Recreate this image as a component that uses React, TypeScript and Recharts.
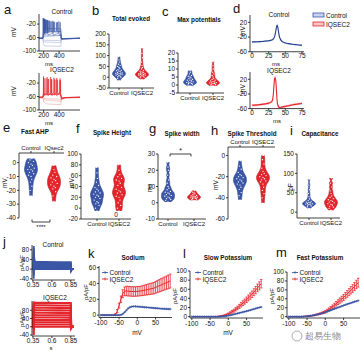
import React from "react";
import { ComposedChart, LineChart, Line, Area, XAxis, YAxis, ErrorBar } from "recharts";

const BLUE = "#3b56a6";
const BLUE_LINE = "#26418f";
const BLUE_PALE = "#a9b3dc";
const RED = "#e4262c";
const RED_LINE = "#b8151c";
const RED_PALE = "#f2a5a5";
const INK = "#111";
const FONT = "'Liberation Sans', Arial, Helvetica, sans-serif";

// ---- a: voltage traces [ms, mV]
const aCtrlPale = [
  [[140, -63], [192, -63], [197, -79], [215, -85], [422, -86], [428, -67], [460, -63], [670, -63]],
  [[140, -63], [192, -63], [197, -73], [422, -75], [428, -65], [460, -63], [670, -63]],
  [[140, -63], [192, -63], [197, -68], [422, -69], [428, -63], [670, -63]],
];
const aCtrl = [
  [[140, -62], [192, -62], [197, -56], [422, -54], [428, -63], [670, -62]],
  [[140, -62], [192, -62], [198, -50], [203, -47], [205, -4], [208, -53], [250, -47], [252, -8], [255, -53], [318, -47], [320, -10], [323, -53], [395, -47], [397, -12], [400, -53], [422, -50], [428, -65], [670, -62]],
  [[140, -62], [192, -62], [194, -50], [196, -2], [199, -50], [208, -45], [210, -5], [213, -49], [224, -44], [226, -6], [229, -48], [242, -42], [244, -8], [247, -46], [264, -41], [266, -10], [269, -45], [290, -40], [292, -12], [295, -44], [325, -40], [327, -14], [330, -44], [365, -40], [367, -15], [370, -44], [422, -40], [428, -64], [670, -62]],
  [[140, -62], [192, -62], [194, -48], [196, -5], [199, -42], [206, -38], [208, -6], [211, -40], [220, -36], [222, -8], [225, -38], [238, -35], [240, -10], [243, -37], [260, -34], [330, -33], [380, -34], [422, -34], [427, -63], [670, -62]],
  [[140, -62], [192, -62], [194, -49], [196, -3], [199, -48], [205, -44], [207, -4], [210, -47], [216, -43], [218, -6], [221, -46], [230, -42], [232, -7], [235, -45], [250, -42], [252, -9], [255, -45], [275, -41], [277, -10], [280, -44], [305, -41], [307, -12], [310, -44], [340, -41], [342, -13], [345, -44], [378, -42], [380, -14], [383, -44], [412, -42], [414, -15], [417, -44], [422, -45], [428, -65], [670, -62]],
];
const aIqPale = [
  [[140, -63], [192, -63], [200, -76], [240, -82], [422, -84], [430, -68], [480, -64], [670, -63]],
  [[140, -63], [192, -63], [200, -70], [422, -74], [430, -66], [480, -63], [670, -63]],
  [[140, -64], [192, -64], [200, -66], [422, -68], [430, -64], [670, -63]],
];
const aIq = [
  [[140, -62], [192, -62], [197, -55], [422, -52], [430, -63], [670, -62]],
  [[140, -62], [192, -62], [196, -50], [198, 0], [201, -56], [243, -48], [245, -2], [248, -56], [288, -48], [290, -2], [293, -56], [331, -48], [333, -4], [336, -56], [368, -48], [370, -5], [373, -56], [411, -48], [413, -6], [416, -56], [424, -58], [432, -66], [470, -63], [670, -62]],
  [[140, -62], [192, -62], [203, -50], [205, -6], [208, -57], [253, -49], [255, -8], [258, -57], [303, -49], [305, -10], [308, -57], [358, -49], [360, -10], [363, -57], [408, -50], [410, -12], [413, -57], [424, -56], [432, -67], [480, -63], [670, -62]],
  [[140, -62], [192, -62], [198, -50], [200, -4], [203, -55], [228, -48], [230, -6], [233, -55], [263, -47], [265, -8], [268, -55], [298, -47], [300, -8], [303, -55], [338, -47], [340, -9], [343, -55], [378, -47], [380, -10], [383, -55], [416, -47], [418, -11], [421, -55], [428, -68], [480, -64], [670, -62]],
];

// ---- violins (raw cell values)
const bCtrl = [-15, -5, 0, 2, 5, 8, 10, 12, 14, 15, 17, 18, 20, 22, 25, 28, 30, 32, 35, 40, 45, 50, 55, 60, 70, 80, 95];
const bIq = [-10, -3, 0, 3, 5, 7, 9, 10, 12, 13, 15, 16, 18, 20, 22, 25, 28, 32, 38, 45, 55, 70, 90, 110, 135];
const cCtrl = [-0.5, 0, 0.5, 1, 1, 1.5, 1.5, 2, 2, 2.5, 3, 3, 3.5, 4, 4.5, 5, 5.5, 6, 7, 8, 9];
const cIq = [-0.5, 0, 0.3, 0.6, 1, 1, 1.3, 1.5, 1.8, 2, 2.3, 2.6, 3, 3.5, 4, 5, 6, 7, 8, 10, 12, 14.5];
const eCtrl = [-24, -20, -17, -14, -12, -10, -9, -8, -7, -6, -5, -5, -4, -3, -2, -1, 0, 1, 2, 3];
const eIq = [-28, -24, -21, -19, -18, -17, -16, -15, -14, -13, -12, -11, -10, -9, -7, -5, -2];
const fCtrl = [-5, 0, 5, 8, 10, 12, 15, 18, 20, 22, 24, 26, 28, 30, 32, 35, 38, 42, 48, 55, 65, 75];
const fIq = [-5, 0, 5, 10, 15, 20, 22, 25, 28, 30, 32, 35, 38, 42, 46, 50, 52, 55, 58, 62, 70, 80];
const gCtrl = [0.5, 1.5, 2, 2.5, 3, 3.5, 4, 4.5, 5, 5.5, 6, 6.5, 7, 8, 9, 10, 12, 14, 17, 20, 22, 25];
const gIq = [1.5, 2, 2.3, 2.6, 2.8, 3, 3.2, 3.4, 3.6, 3.8, 4, 4.3, 4.6, 5, 5.5, 6, 6.5, 7.5];
const hCtrl = [-42, -38, -35, -32, -30, -28, -27, -26, -25, -24, -23, -22, -21, -20, -19, -18, -16, -13, -10, -5];
const hIq = [-45, -40, -36, -33, -30, -27, -25, -24, -23, -22, -21, -20, -19, -18, -17, -15, -12, -8, -4, 0];
const iCtrl = [10, 14, 16, 18, 19, 20, 21, 22, 23, 24, 25, 26, 28, 30, 34, 40, 48, 58, 70, 85];
const iIq = [5, 10, 13, 15, 18, 20, 22, 24, 26, 28, 30, 32, 35, 38, 42, 48, 55, 65, 75, 88];

// ---- d: averaged spike waveforms
const dCtrlT = [0, 5, 10, 15, 20, 25, 30, 32, 34, 35, 36, 37, 38, 39, 40, 41, 43, 46, 50, 55, 60, 65, 70, 75];
const dCtrlV = [-33, -33, -32.5, -32, -31, -30, -28, -25, -18, -10, 0, 9, 12, 4, -8, -18, -27, -33, -36, -38, -39.5, -40.5, -41.5, -42.5];
const dCtrlE = [2, 2, 2, 2, 2, 2, 2, 2, 3, 4, 5, 5, 5, 5, 5, 4, 3, 2.5, 2, 2, 2, 2, 2, 2];
const dIqT = [0, 5, 10, 15, 20, 25, 28, 30, 31, 32, 33, 34, 35, 36, 37, 38, 40, 42, 45, 50, 55, 60, 65, 70, 75];
const dIqV = [-51, -50.5, -49.5, -48.5, -47, -45, -43, -40, -35, -20, 5, 22, 24, 10, -20, -45, -55, -57, -56, -54, -52, -50, -48.5, -47, -46];
const dIqE = [3, 3, 3, 3, 3, 3, 3, 3, 4, 6, 7, 7, 7, 7, 7, 6, 4, 3, 3, 3, 3, 3, 3, 3, 3];

// ---- j: current traces (s, pA/pF)
const jT = [0.345, 0.358, 0.36, 0.362, 0.37, 0.39, 0.5, 0.7, 0.848, 0.85, 0.853, 0.865, 0.885];
const jCtrl = [
  [0, 0, -40, -10, 0, 0, 0, 0, 0, 0, -8, 0, 0],
  [0, 0, -25, -2, 3, 3, 3, 3, 3, 3, -6, 0, 0],
  [0, 0, -5, 6, 7, 6, 6, 6, 5.5, 5.5, -5, 0, 0],
  [0, 0, 15, 14, 11, 9.5, 9, 9, 8.5, 8.5, -4, 0, 0],
  [0, 0, 35, 22, 15, 12.5, 12, 12, 11.5, 11.5, -3, 0, 0],
  [0, 0, 50, 30, 19, 16, 15.5, 15, 14.5, 14.5, -2, 0, 0],
  [0, 0, 65, 38, 23, 19.5, 19, 18.5, 18, 18, -1, 0, 0],
  [0, 0, 78, 46, 27, 23, 22.5, 22, 21.5, 21.5, 0, 0, 0],
  [0, 0, 88, 54, 31, 27, 26, 25.5, 25, 25, 1, 0, 0],
  [0, 0, 96, 62, 35, 30, 29.5, 29, 28.5, 28.5, 2, 0, 0],
];
const jIq = [
  [0, 0, -40, -5, 0, 0, 0, 0, 0, 0, -8, 0, 0],
  [0, 0, -10, 14, 12, 11, 11, 11, 10.5, 10.5, -6, 0, 0],
  [0, 0, 10, 26, 23, 22, 22, 22, 21.5, 21.5, -5, 0, 0],
  [0, 0, 30, 38, 34, 33, 33, 33, 32.5, 32.5, -4, 0, 0],
  [0, 0, 50, 50, 46, 45, 45, 44.5, 44, 44, -3, 0, 0],
  [0, 0, 70, 62, 58, 56, 56, 55.5, 55, 55, -2, 0, 0],
  [0, 0, 85, 74, 70, 68, 68, 67.5, 67, 67, -1, 0, 0],
  [0, 0, 98, 86, 82, 80, 80, 79.5, 79, 79, 0, 0, 0],
  [0, 0, 108, 98, 94, 92, 92, 91.5, 91, 91, 1, 0, 0],
  [0, 0, 116, 110, 106, 104, 104, 103.5, 103, 103, 2, 0, 0],
  [0, 0, 122, 120, 117, 116, 116, 115.5, 115, 115, 3, 0, 0],
];

// ---- k, l, m: I-V curves
const V = [-100, -95, -90, -85, -80, -75, -70, -65, -60, -55, -50, -45, -40, -35, -30, -25, -20, -15, -10, -5, 0, 5, 10, 15, 20, 25, 30, 35, 40, 45, 50, 55, 60, 65, 70, 75, 80, 85, 90];
const kCtrl = [0, 0, 0, 0, 0, 0, 0, 0, 0, 0, 0, 0.3, 1.5, 3.5, 6, 8.5, 10, 10.8, 11, 11, 10.8, 10.6, 10.4, 10.2, 10, 9.8, 9.6, 9.4, 9.2, 9, 8.8, 8.6, 8.4, 8.2, 8, 7.9, 7.8, 7.7, 7.6];
const kIq = [0, 0, 0, 0, 0, 0, 0, 0, 1, 5, 12, 20, 27, 30, 30.5, 30.2, 30, 29.8, 29.8, 29.8, 30, 30.2, 30.5, 31, 31.5, 32, 32.5, 33, 33.5, 34, 35, 36, 37, 38, 39, 40, 41, 42, 43];
const kIqErr = [0, 0, 0, 0, 0, 0, 0, 0, 1, 2, 3, 4, 5, 5.5, 6, 6, 6, 6, 6, 6, 6, 6, 6, 6.2, 6.4, 6.6, 6.8, 7, 7, 7.2, 7.4, 7.6, 7.8, 8, 8, 8.2, 8.4, 8.6, 8.8];
const lCtrl = [0, 0, 0, 0, 0, 0, 0, 0, 0, 0, 0, 0, 0, 0, 0, 0, 0.3, 0.6, 1, 1.6, 2.3, 3.2, 4, 5, 6, 7, 8, 9, 10, 11, 12, 13, 14.2, 15.4, 16.6, 17.8, 19, 20, 21];
const lIq = [0, 0, 0, 0, 0, 0, 0, 0, 0, 0, 0, 0, 0, 0, 0.3, 0.7, 1.3, 2, 3, 4.3, 6, 8, 10.5, 13, 16, 19, 22.5, 26, 29.5, 33, 37, 41, 45, 49, 53.5, 58, 63, 67.5, 72];
const lIqErr = [0, 0, 0, 0, 0, 0, 0, 0, 0, 0, 0, 0, 0, 0, 0.3, 0.5, 0.8, 1, 1.3, 1.6, 2, 2.4, 2.8, 3.2, 3.6, 4, 4.4, 4.8, 5.2, 5.6, 6, 6.4, 6.8, 7.2, 7.6, 8, 8.4, 8.8, 9.2];
const mCtrl = [0, 0, 0, 0, 0, 0, 0, 0.2, 0.4, 0.7, 1, 1.5, 2, 2.7, 3.5, 4.3, 5.2, 6.2, 7.3, 8.5, 10, 11.5, 13, 14.5, 16, 17.5, 19, 20.5, 22, 23.5, 25, 26.5, 28, 29.3, 30.6, 32, 33.3, 34.6, 36];
const mIq = [0, 0, 0, 0, 0, 0, 0, 0.1, 0.3, 0.5, 0.8, 1.2, 1.7, 2.4, 3.2, 4.2, 5.3, 6.6, 8, 9.5, 11, 13.5, 16, 19, 22, 25.5, 29, 32.5, 36, 39.5, 43, 47, 51, 55, 59, 63, 67.5, 72, 76];
const mIqErr = [0, 0, 0, 0, 0, 0, 0, 0.1, 0.2, 0.3, 0.4, 0.5, 0.6, 0.8, 1, 1.2, 1.4, 1.7, 2, 2.3, 2.6, 3, 3.4, 3.8, 4.2, 4.6, 5, 5.4, 5.8, 6.2, 6.6, 7, 7.4, 7.8, 8.2, 8.6, 9, 9.4, 9.8];

const tick = { fontSize: 6.5, fill: INK, fontFamily: FONT };
const axis = {
  tick,
  tickSize: 2,
  tickMargin: 1,
  stroke: INK,
  axisLine: { stroke: INK, strokeWidth: 0.8 },
  tickLine: { stroke: INK, strokeWidth: 0.8 },
};

const YW = 24;
const XH = 10;
const PAD = 5;
function frame(px: number, py: number, pw: number, ph: number, top = false) {
  return {
    style: { position: "absolute" as const, left: px - YW, top: py - PAD - (top ? XH : 0) },
    width: YW + pw + 4,
    height: ph + XH + 2 * PAD,
    margin: { top: PAD, right: 4, bottom: PAD, left: 0 },
  };
}

function dens(vals: number[], y: number, bw: number) {
  let s = 0;
  for (const v of vals) {
    const z = (y - v) / bw;
    s += Math.exp(-0.5 * z * z);
  }
  return s;
}

// one table per group: outline rows (kernel density, trimmed at min/max) plus one row per cell
function violinRows(g: number[], center: number, bw: number, half: number) {
  const lo = Math.min(...g);
  const hi = Math.max(...g);
  let peak = 0;
  for (let i = 0; i <= 200; i++) peak = Math.max(peak, dens(g, lo + ((hi - lo) * i) / 200, bw));
  const rows: any[] = [];
  for (let i = 0; i <= 60; i++) rows.push({ y: lo + ((hi - lo) * i) / 60 });
  [...g].sort((a, b) => a - b).forEach((v, k) => rows.push({ y: v, k }));
  rows.sort((a, b) => a.y - b.y);
  const offs = [0, -0.5, 0.5, -0.25, 0.25];
  return rows.map((r) => {
    const w = (half * dens(g, r.y, bw)) / peak;
    return { y: r.y, v: [center - w, center + w], p: r.k !== undefined ? center + offs[r.k % 5] * w : null };
  });
}

type ViolinProps = {
  px: number; py: number; pw: number; ph: number; c1: number; c2: number;
  yDomain: [number, number]; yTicks: number[]; ctrl: number[]; iq: number[];
  bw: number; cats: [string, string]; top?: boolean;
};

function ViolinPanel(p: ViolinProps) {
  const f = frame(p.px, p.py, p.pw, p.ph, p.top);
  const s = p.c2 - p.c1;
  const xDomain = [1 - (p.c1 - p.px) / s, 2 + (p.px + p.pw - p.c2) / s];
  const half = 6.5 / s;
  const r0 = violinRows(p.ctrl, 1, p.bw, half);
  const r1 = violinRows(p.iq, 2, p.bw, half);
  const dot = { r: 0.65, fill: "#fff", stroke: "none" };
  return (
    <div style={f.style}>
      <ComposedChart layout="vertical" width={f.width} height={f.height} margin={f.margin}>
        <XAxis type="number" orientation={p.top ? "top" : "bottom"} domain={xDomain} ticks={[1, 2]} interval={0}
          tickFormatter={(v: number) => (v === 1 ? p.cats[0] : p.cats[1])} height={XH} allowDataOverflow
          {...axis} tick={{ ...tick, fontSize: 6 }} />
        <YAxis type="number" dataKey="y" domain={p.yDomain} ticks={p.yTicks} interval={0} width={YW} reversed allowDataOverflow {...axis} />
        <Area data={r0} type="linear" dataKey="v" fill={BLUE} fillOpacity={1} stroke={BLUE_LINE} strokeWidth={0.6} isAnimationActive={false} />
        <Area data={r1} type="linear" dataKey="v" fill={RED} fillOpacity={1} stroke={RED_LINE} strokeWidth={0.6} isAnimationActive={false} />
        <Line data={r0} dataKey="p" stroke="none" dot={dot} activeDot={false} isAnimationActive={false} />
        <Line data={r1} dataKey="p" stroke="none" dot={dot} activeDot={false} isAnimationActive={false} />
      </ComposedChart>
    </div>
  );
}

function TracePanel({ px, py, pw, ph, pale, main, paleColor, color }: any) {
  const f = frame(px, py, pw, ph);
  return (
    <div style={f.style}>
      <LineChart width={f.width} height={f.height} margin={f.margin}>
        <XAxis type="number" dataKey="t" domain={[140, 670]} ticks={[200, 400]} height={XH} allowDataOverflow {...axis} tickMargin={0} />
        <YAxis type="number" domain={[-100, 10]} ticks={[-100, -60, -20]} interval={0} width={YW} allowDataOverflow {...axis} />
        {pale.map((tr: number[][], i: number) => (
          <Line key={"p" + i} data={tr.map(([t, v]) => ({ t, v }))} dataKey="v" stroke={paleColor} strokeWidth={0.6} dot={false} isAnimationActive={false} />
        ))}
        {main.map((tr: number[][], i: number) => (
          <Line key={"m" + i} data={tr.map(([t, v]) => ({ t, v }))} dataKey="v" stroke={color} strokeWidth={0.55} dot={false} isAnimationActive={false} />
        ))}
      </LineChart>
    </div>
  );
}

function SpikePanel({ px, py, pw, ph, t, v, e, color, band }: any) {
  const f = frame(px, py, pw, ph);
  const rows = t.map((x: number, i: number) => ({ t: x, v: v[i], band: [v[i] - e[i], v[i] + e[i]] }));
  return (
    <div style={f.style}>
      <ComposedChart width={f.width} height={f.height} margin={f.margin} data={rows}>
        <XAxis type="number" dataKey="t" domain={[-3, 78]} ticks={[0, 25, 50, 75]} interval={0} height={XH} allowDataOverflow {...axis} tickMargin={0} />
        <YAxis type="number" domain={[-60, 40]} ticks={[-60, -20, 20]} interval={0} width={YW} allowDataOverflow {...axis} />
        <Area type="monotone" dataKey="band" fill={band} fillOpacity={1} stroke="none" isAnimationActive={false} />
        <Line type="monotone" dataKey="v" stroke={color} strokeWidth={1.1} dot={false} isAnimationActive={false} />
      </ComposedChart>
    </div>
  );
}

function CurrentPanel({ px, py, pw, ph, traces, color, yDomain }: any) {
  const f = frame(px, py, pw, ph);
  const rows = jT.map((t, i) => {
    const r: any = { t };
    traces.forEach((tr: number[], k: number) => (r["s" + k] = tr[i]));
    return r;
  });
  return (
    <div style={f.style}>
      <LineChart width={f.width} height={f.height} margin={f.margin} data={rows}>
        <XAxis type="number" dataKey="t" domain={[0.337, 0.905]} ticks={[0.35, 0.6, 0.85]} interval={0} height={XH} allowDataOverflow {...axis} tickMargin={0} />
        <YAxis type="number" domain={yDomain} ticks={[-40, 0, 40, 80]} interval={0} width={YW} allowDataOverflow {...axis} />
        {traces.map((_: number[], k: number) => (
          <Line key={k} dataKey={"s" + k} stroke={color} strokeWidth={color === RED ? 2.1 : 1.8} dot={false} isAnimationActive={false} />
        ))}
      </LineChart>
    </div>
  );
}

const PlusDot = (props: any) => {
  const { cx, cy, index } = props;
  if (cx == null || cy == null) return <g key={index} />;
  return <path key={index} d={`M${cx - 1.3},${cy}H${cx + 1.3}M${cx},${cy - 1.2}V${cy + 1.2}`} stroke={BLUE} strokeWidth={0.8} />;
};

function IVPanel({ px, py, pw, ph, yDomain, yTicks, ctrl, iq, iqErr }: any) {
  const f = frame(px, py, pw, ph);
  const rows = V.map((v, i) => ({ v, c: ctrl[i], q: iq[i], qe: iqErr[i] }));
  return (
    <div style={f.style}>
      <LineChart width={f.width} height={f.height} margin={f.margin} data={rows}>
        <XAxis type="number" dataKey="v" domain={[-105, 95]} ticks={[-100, -50, 0, 50]} interval={0} height={XH} allowDataOverflow {...axis} />
        <YAxis type="number" domain={yDomain} ticks={yTicks} interval={0} width={YW} allowDataOverflow {...axis} />
        <Line dataKey="q" stroke={RED} strokeWidth={1} dot={false} isAnimationActive={false}>
          <ErrorBar dataKey="qe" width={1.2} stroke={RED} strokeWidth={0.8} direction="y" />
        </Line>
        <Line dataKey="c" stroke={BLUE} strokeWidth={1} dot={<PlusDot />} isAnimationActive={false} />
      </LineChart>
    </div>
  );
}

function T({ x, y, s = 6.5, b = false, a = "middle", r = false, c = INK, children }: any) {
  return (
    <text x={x} y={y} fontSize={s} fontWeight={b ? 700 : 400} textAnchor={a} fill={c} fontFamily={FONT}
      transform={r ? `rotate(-90 ${x} ${y})` : undefined} dominantBaseline={r ? "central" : undefined}>
      {children}
    </text>
  );
}

function Overlay() {
  const letters: [string, number, number][] = [
    ["a", 4, 14], ["b", 92, 14.5], ["c", 162, 15.5], ["d", 233, 12.5], ["e", 3, 132], ["f", 76, 133],
    ["g", 149, 133], ["h", 211, 134.5], ["i", 290, 134.5], ["j", 3, 246], ["k", 88, 258], ["l", 183, 258], ["m", 276, 257],
  ];
  return (
    <svg width={364} height={352} style={{ position: "absolute", left: 0, top: 0, pointerEvents: "none" }}>
      {letters.map(([l, x, y]) => (
        <T key={l} x={x} y={y} s={13} a="start">{l}</T>
      ))}
      <T x={62} y={13.5}>Control</T>
      <T x={62} y={71.5}>IQSEC2</T>
      <T x={131} y={20.5} b s={6.3}>Total evoked</T>
      <T x={199} y={22} b s={6.3}>Max potentials</T>
      <T x={279} y={16.5}>Control</T>
      <T x={279} y={72.5}>IQSEC2</T>
      <T x={35} y={134} b s={6.3}>Fast AHP</T>
      <T x={112} y={135} b s={6.3}>Spike Height</T>
      <T x={182} y={136} b s={6.3}>Spike width</T>
      <T x={252} y={136} b s={6.3}>Spike Threshold</T>
      <T x={320} y={136} b s={6.3}>Capacitance</T>
      <T x={53} y={246.5}>Control</T>
      <T x={55} y={299.5}>IQSEC2</T>
      <T x={133} y={260} b s={6.3}>Sodium</T>
      <T x={228} y={259.5} b s={6.3}>Slow Potassium</T>
      <T x={320} y={260} b s={6.3}>Fast Potassium</T>

      <T x={13} y={32} r>mV</T>
      <T x={13} y={91} r>mV</T>
      <T x={49} y={66} s={6}>ms</T>
      <T x={49} y={125} s={6}>ms</T>
      <T x={242} y={31} r>mV</T>
      <T x={242} y={89} r>mV</T>
      <T x={276} y={65.5} s={6}>ms</T>
      <T x={277} y={122.5} s={6}>ms</T>
      <T x={4.5} y={183} r>mV</T>
      <T x={71} y={183} r>mV</T>
      <T x={149} y={188} r>ms</T>
      <T x={215} y={185} r>mV</T>
      <T x={290} y={187} r>pF</T>
      <T x={22} y={263} r s={6}>pA/pF</T>
      <T x={22} y={319} r s={6}>pA/pF</T>
      <T x={51} y={350} s={6}>s</T>
      <T x={86} y={292} r s={6}>pA/pF</T>
      <T x={175} y={296} r s={6}>pA/pF</T>
      <T x={272} y={296} r s={6}>pA/pF</T>
      <T x={137} y={335}>mV</T>
      <T x={228} y={335}>mV</T>

      {/* d legend */}
      <rect x={313} y={13} width={11} height={4} fill="#c9d2ee" stroke={BLUE} strokeWidth={0.8} />
      <T x={326} y={17.5} a="start">Control</T>
      <rect x={313} y={22} width={11} height={4} fill="#f6c4c4" stroke={RED} strokeWidth={0.8} />
      <T x={326} y={26.5} a="start">IQSEC2</T>

      {/* k, l, m legends */}
      {[102, 195, 292].map((x) => (
        <g key={x}>
          <path d={`M${x},272.5H${x + 6}M${x + 3},271.3V273.7`} stroke={BLUE} strokeWidth={0.9} />
          <T x={x + 7.5} y={275} a="start">Control</T>
          <path d={`M${x},279H${x + 6}M${x + 3},277.6V280.4`} stroke={RED} strokeWidth={0.9} />
          <T x={x + 7.5} y={281.5} a="start">IQSEC2</T>
        </g>
      ))}

      {/* significance marks */}
      <path d="M32,219.5V222H50V219.5" stroke={INK} strokeWidth={0.8} fill="none" />
      <T x={41} y={229} s={6}>****</T>
      <path d="M170,156.5V154H191V156.5" stroke={INK} strokeWidth={0.8} fill="none" />
      <T x={180.5} y={152.5} s={7}>*</T>
      <T x={116} y={216.5}>0</T>

      {/* watermark */}
      <circle cx={297} cy={336} r={5} fill="none" stroke="#999" strokeWidth={0.8} />
      <T x={305} y={339} a="start" s={9} c="#888">超易生物</T>
    </svg>
  );
}

export default function App() {
  return (
    <div style={{ position: "absolute", left: 0, top: 0, width: 364, height: 352, background: "#fff", fontFamily: FONT, overflow: "hidden" }}>
      <TracePanel px={39} py={14} pw={41} ph={37} pale={aCtrlPale} main={aCtrl} paleColor={BLUE_PALE} color={BLUE} />
      <TracePanel px={39} py={73} pw={41} ph={37} pale={aIqPale} main={aIq} paleColor={RED_PALE} color={RED} />

      <ViolinPanel px={109} py={34} pw={45} ph={54} c1={119} c2={142} yDomain={[-50, 200]} yTicks={[-50, 0, 50, 100, 150, 200]}
        ctrl={bCtrl} iq={bIq} bw={8} cats={["Control", "IQSEC2"]} />
      <ViolinPanel px={178} py={53} pw={46} ph={40} c1={190} c2={213} yDomain={[-5, 20]} yTicks={[-5, 0, 5, 10, 15, 20]}
        ctrl={cCtrl} iq={cIq} bw={0.8} cats={["Control", "IQSEC2"]} />

      <SpikePanel px={250} py={15} pw={54} ph={36.75} t={dCtrlT} v={dCtrlV} e={dCtrlE} color={BLUE_LINE} band="#bcc7ea" />
      <SpikePanel px={250} py={71.7} pw={54} ph={36.6} t={dIqT} v={dIqV} e={dIqE} color={RED} band="#f6b9b9" />

      <ViolinPanel px={19} py={153} pw={45} ph={65} c1={31} c2={54} yDomain={[-40, 7]} yTicks={[-40, -30, -20, -10, 0]}
        ctrl={eCtrl} iq={eIq} bw={2.2} cats={["Control", "IQsec2"]} top />
      <ViolinPanel px={81} py={154} pw={50} ph={65} c1={97} c2={119} yDomain={[-20, 100]} yTicks={[-20, 0, 20, 40, 60, 80, 100]}
        ctrl={fCtrl} iq={fIq} bw={5} cats={["Control", "IQSEC2"]} />
      <ViolinPanel px={158} py={154} pw={48} ph={65} c1={168} c2={194} yDomain={[-10, 30]} yTicks={[-10, 0, 10, 20, 30]}
        ctrl={gCtrl} iq={gIq} bw={1} cats={["Control", "IQSEC2"]} />
      <ViolinPanel px={228} py={147} pw={47} ph={72} c1={240} c2={263} yDomain={[-60, 8]} yTicks={[-60, -40, -20, 0]}
        ctrl={hCtrl} iq={hIq} bw={2.8} cats={["Control", "IQSEC2"]} top />
      <ViolinPanel px={297} py={154} pw={43} ph={64} c1={309} c2={331} yDomain={[-15, 150]} yTicks={[0, 50, 100, 150]}
        ctrl={iCtrl} iq={iIq} bw={3.5} cats={["Control", "IQSEC2"]} />

      <CurrentPanel px={32} py={245} pw={43} ph={35} traces={jCtrl} color={BLUE} yDomain={[-45, 100]} />
      <CurrentPanel px={32} py={301} pw={43} ph={35} traces={jIq} color={RED} yDomain={[-45, 125]} />

      <IVPanel px={99} py={266} pw={73} ph={51.5} yDomain={[-3, 62]} yTicks={[0, 20, 40, 60]} ctrl={kCtrl} iq={kIq} iqErr={kIqErr} />
      <IVPanel px={190} py={270.5} pw={73} ph={47} yDomain={[-3, 100]} yTicks={[0, 20, 40, 60, 80, 100]} ctrl={lCtrl} iq={lIq} iqErr={lIqErr} />
      <IVPanel px={287} py={271.5} pw={73} ph={46} yDomain={[-3, 100]} yTicks={[0, 20, 40, 60, 80, 100]} ctrl={mCtrl} iq={mIq} iqErr={mIqErr} />

      <Overlay />
    </div>
  );
}
